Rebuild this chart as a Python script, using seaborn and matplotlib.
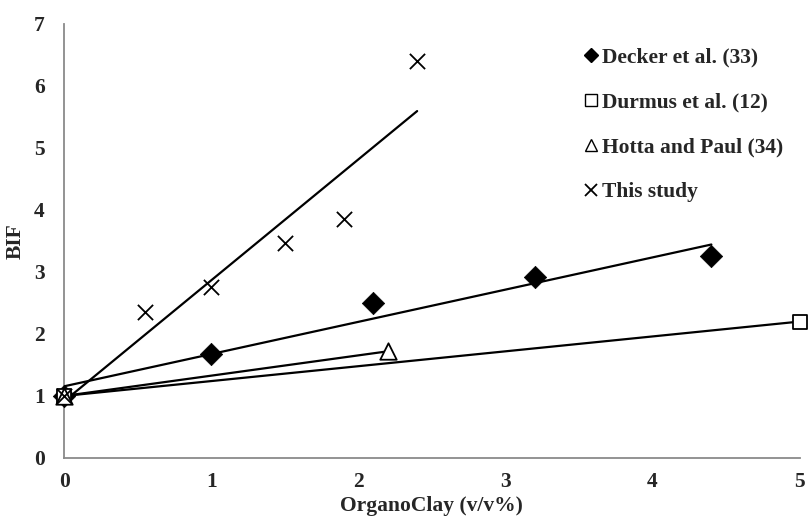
import numpy as np
import pandas as pd
import matplotlib
matplotlib.use("Agg")
import matplotlib.pyplot as plt
from matplotlib.lines import Line2D
import seaborn as sns

# Data
decker_x = [0, 1.0, 2.1, 3.2, 4.4]
decker_y = [1.0, 1.67, 2.5, 2.92, 3.25]
durmus_x = [0, 5.0]
durmus_y = [1.0, 2.2]
hotta_x = [0, 2.2]
hotta_y = [1.0, 1.72]
study_x = [0, 0.55, 1.0, 1.5, 1.9, 2.4]
study_y = [1.0, 2.35, 2.75, 3.47, 3.85, 6.4]

labels = ["Decker et al. (33)", "Durmus et al. (12)", "Hotta and Paul (34)", "This study"]
x_ticks = [0, 1, 2, 3, 4, 5]
y_ticks = [0, 1, 2, 3, 4, 5, 6, 7]

sns.set_style("white")
plt.rcParams['font.family'] = ['Liberation Serif', 'DejaVu Serif']
plt.rcParams['font.weight'] = 'bold'

FS = 15.5

fig = plt.figure(figsize=(8.11, 5.21), dpi=100)
ax = fig.add_axes([0.079, 0.121, 0.907, 0.833])

series = [
    (decker_x, decker_y, dict(marker="D", s=130, color="black", edgecolor="black", linewidth=0.5), dict(marker="D", markersize=7, color="black", markeredgecolor="black", linestyle="none")),
    (durmus_x, durmus_y, dict(marker="s", s=90, facecolor="white", edgecolor="black", linewidth=1.3), dict(marker="s", markersize=8, markerfacecolor="white", markeredgecolor="black", linestyle="none")),
    (hotta_x, hotta_y, dict(marker="^", s=140, facecolor="white", edgecolor="black", linewidth=1.3), dict(marker="^", markersize=8, markerfacecolor="white", markeredgecolor="black", linestyle="none")),
    (study_x, study_y, dict(marker="x", s=120, color="black", linewidth=1.3), dict(marker="x", markersize=9, color="black", markeredgewidth=1.3, linestyle="none")),
]

handles = []
for (xs, ys, skw, lkw), lab in zip(series, labels):
    df = pd.DataFrame({"x": xs, "y": ys})
    slope, inter = np.polyfit(xs, ys, 1)
    xl = np.array([min(xs), max(xs)])
    sns.lineplot(x=xl, y=inter + slope * xl, ax=ax, color="black", linewidth=1.6, zorder=2)
    sns.scatterplot(data=df, x="x", y="y", ax=ax, zorder=3, clip_on=False, **skw)
    handles.append(Line2D([], [], **lkw))

ax.set_xlim(0, 5)
ax.set_ylim(0, 7)
ax.set_xticks(x_ticks)
ax.set_yticks(y_ticks)
ax.set_xticklabels([str(t) for t in x_ticks], fontsize=FS, fontweight='bold')
ax.set_yticklabels([str(t) for t in y_ticks], fontsize=FS, fontweight='bold')
ax.set_xlabel("OrganoClay (v/v%)", fontsize=FS, fontweight='bold', labelpad=3)
ax.set_ylabel("BIF", fontsize=FS, fontweight='bold', labelpad=6)
ax.tick_params(axis='x', direction='in', length=4, width=1, color='#8a8a8a', pad=10)
ax.tick_params(axis='y', direction='in', length=4, width=1, color='#8a8a8a', pad=14)
for side in ["top", "right"]:
    ax.spines[side].set_visible(False)
for side in ["left", "bottom"]:
    ax.spines[side].set_color('#8a8a8a')
    ax.spines[side].set_linewidth(1.3)

leg = ax.legend(handles, labels, loc="upper left", bbox_to_anchor=(0.697, 0.965),
                frameon=False, handlelength=0.5, handletextpad=0.25, labelspacing=1.15,
                prop={'size': FS, 'weight': 'bold'}, borderaxespad=0)

fig.savefig("out.png", dpi=100)
